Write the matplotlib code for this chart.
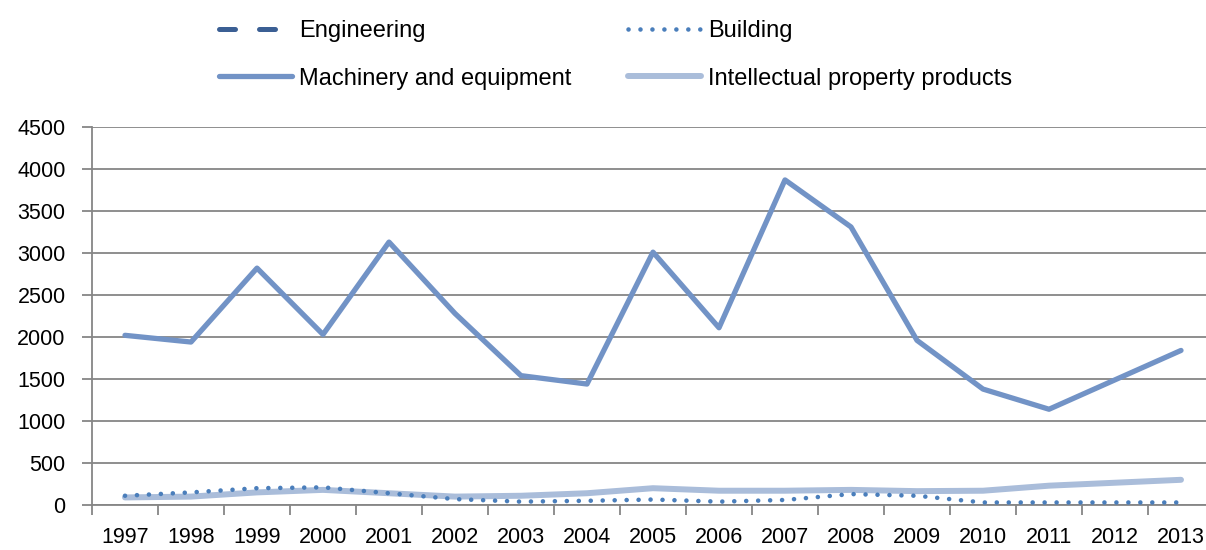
import numpy as np
import matplotlib
matplotlib.use("Agg")
import matplotlib.pyplot as plt

years = [str(y) for y in range(1997, 2014)]
engineering = [np.nan] * len(years)
building = [110, 150, 200, 210, 140, 70, 40, 50, 65, 40, 60, 130, 110, 30, 30, 30, 30]
machinery = [2020, 1940, 2820, 2030, 3130, 2280, 1540, 1440, 3010, 2110, 3870, 3310, 1960, 1380, 1140, 1490, 1840]
ip_products = [90, 100, 150, 180, 140, 100, 110, 140, 200, 170, 170, 180, 165, 170, 230, 265, 300]

plt.rcParams['font.family'] = ['Liberation Sans', 'DejaVu Sans']

fig = plt.figure(figsize=(12.06, 5.5), dpi=100)
ax = fig.add_axes([92 / 1206, 45 / 550, 1122 / 1206, 378 / 550])

x = np.arange(len(years))
l_eng, = ax.plot(x, engineering, color='#3b5f94', lw=3.6, ls=(0, (3.2, 4.8)),
                 dash_capstyle='round', label='Engineering')
l_bld, = ax.plot(x, building, color='#4a7ebb', lw=3.3, ls=(0, (0.01, 2.6)),
                 dash_capstyle='round', label='Building', zorder=4)
l_mach, = ax.plot(x, machinery, color='#7293c6', lw=3.8, label='Machinery and equipment',
                  solid_capstyle='round', solid_joinstyle='round', zorder=3)
l_ip, = ax.plot(x, ip_products, color='#aabdda', lw=4.3, label='Intellectual property products',
                solid_capstyle='round', solid_joinstyle='round', zorder=3)

ax.set_xlim(-0.5, len(years) - 0.5)
ax.set_ylim(0, 4500)
ax.set_yticks(range(0, 4501, 500))
ax.grid(axis='y', color='#868686', lw=1.3, zorder=0)
ax.set_axisbelow(True)

ax.set_xticks(x)
ax.set_xticklabels(years)
ax.set_xticks(np.arange(-0.5, len(years), 1), minor=True)
ax.tick_params(axis='x', which='major', length=0, pad=16, labelsize=15.5)
ax.tick_params(axis='x', which='minor', length=7, width=1.3, color='#868686')
ax.tick_params(axis='y', length=7, width=1.3, color='#868686', pad=12, labelsize=15.5)

for side in ['top', 'right']:
    ax.spines[side].set_visible(False)
for side in ['left', 'bottom']:
    ax.spines[side].set_color('#868686')
    ax.spines[side].set_linewidth(1.3)

# legend: two columns placed separately, rows read left to right
leg_kw = dict(loc='upper left', frameon=False, fontsize=17, handlelength=3.1,
              handletextpad=0.3, labelspacing=1.08, borderpad=0, borderaxespad=0)
fig.legend([l_eng, l_mach], ['Engineering', 'Machinery and equipment'],
           bbox_to_anchor=(219 / 1206, 1 - 20 / 550), **leg_kw)
fig.legend([l_bld, l_ip], ['Building', 'Intellectual property products'],
           bbox_to_anchor=(628 / 1206, 1 - 20 / 550), **leg_kw)

fig.savefig('out.png', dpi=100)
